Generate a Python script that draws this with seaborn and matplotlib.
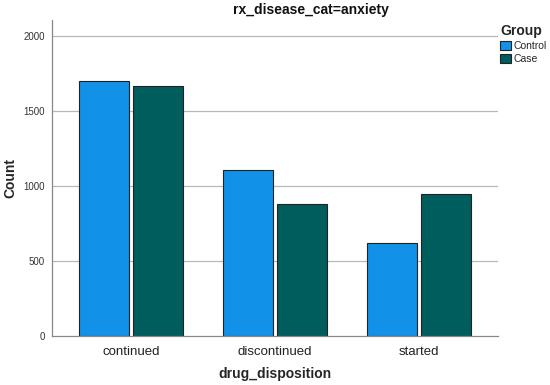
import numpy as np
import pandas as pd
import matplotlib
matplotlib.use("Agg")
import matplotlib.pyplot as plt
import seaborn as sns

# data
categories = ["continued", "discontinued", "started"]
groups = ["Control", "Case"]
control_counts = [1700, 1110, 618]
case_counts = [1670, 882, 946]
y_ticks = [0, 500, 1000, 1500, 2000]

palette = {"Control": "#1192e8", "Case": "#005d5d"}

df = pd.DataFrame({
    "drug_disposition": categories * 2,
    "Group": ["Control"] * len(categories) + ["Case"] * len(categories),
    "Count": control_counts + case_counts,
})

sns.set_style("white")
plt.rcParams["font.family"] = ["Liberation Sans", "DejaVu Sans"]

fig = plt.figure(figsize=(5.5, 3.85), dpi=100)
ax = fig.add_axes([52 / 550, 49 / 385, 446 / 550, 316 / 385])

sns.barplot(
    data=df, x="drug_disposition", y="Count", hue="Group",
    order=categories, hue_order=groups, palette=palette,
    width=0.75, gap=0.06, edgecolor="#222222", linewidth=0.8,
    saturation=1.0, ax=ax, legend=True,
)

ax.set_xlim(-0.549, 2.549)
ax.set_ylim(0, 2107)
ax.set_yticks(y_ticks)
ax.set_yticklabels([str(t) for t in y_ticks], fontsize=7, color="#333333")
ax.tick_params(axis="x", labelsize=9.5, colors="#222222", length=0, pad=7)
ax.tick_params(axis="y", length=0, pad=5)
for t in y_ticks[1:]:
    ax.axhline(t, color="#b8b8b8", linewidth=0.9, zorder=0)

for side in ["top", "right"]:
    ax.spines[side].set_visible(False)
for side in ["left", "bottom"]:
    ax.spines[side].set_color("#888888")
    ax.spines[side].set_linewidth(0.9)

ax.set_xlabel("drug_disposition", fontsize=10, fontweight="bold", labelpad=7)
ax.set_ylabel("Count", fontsize=10, fontweight="bold")
ax.yaxis.set_label_coords(-0.078, 0.5)

fig.text(311 / 550, 1 - 10 / 385, "rx_disease_cat=anxiety", ha="center", va="center",
         fontsize=10, fontweight="bold", color="#111111")

handles, labels = ax.get_legend_handles_labels()
ax.legend_.remove()
leg = fig.legend(handles, labels, title="Group", loc="upper left",
                 bbox_to_anchor=(500 / 550, 1 - 24 / 385), frameon=False,
                 fontsize=7.5, title_fontproperties={"weight": "bold", "size": 10},
                 handlelength=1.05, handleheight=1.05, handletextpad=0.2,
                 labelspacing=0.25, borderaxespad=0, borderpad=0)
leg._legend_box.align = "left"

fig.savefig("out.png", dpi=100)
